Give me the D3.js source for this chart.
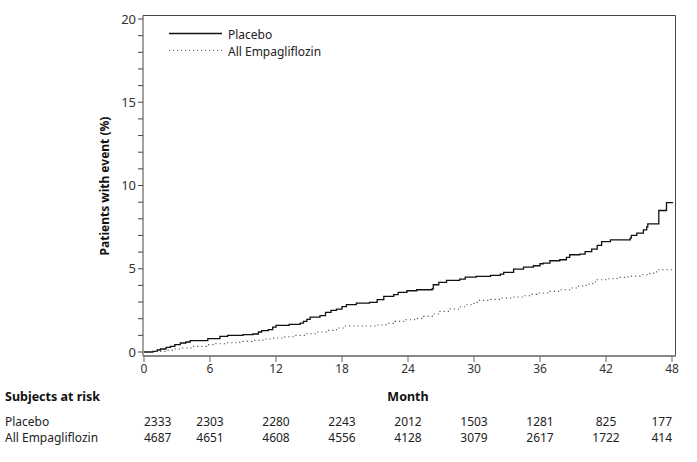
<!DOCTYPE html>
<html>
<head>
<meta charset="utf-8">
<script src="https://cdn.jsdelivr.net/npm/d3@7"></script>
<style>
  html, body { margin: 0; padding: 0; background: #fff; }
  svg { display: block; font-family: "Noto Sans", "Open Sans", sans-serif; }
</style>
</head>
<body>
<svg id="chart" width="697" height="462"></svg>
<script>
// ---- data ----
const seriesNames = ["Placebo", "All Empagliflozin"];
// step points: [month, cumulative % with event]
const placeboSteps = [
  [0,0],[0.8,0.04],[1.2,0.12],[1.5,0.18],[2.0,0.28],[2.4,0.34],[2.8,0.44],[3.3,0.54],
  [3.8,0.6],[4.2,0.68],[5.8,0.8],[6.9,0.94],[7.6,1.0],[9.0,1.04],[9.9,1.08],[10.4,1.2],
  [10.7,1.28],[11.3,1.34],[11.7,1.5],[12.0,1.6],[13.2,1.66],[14.2,1.74],[14.5,1.84],
  [14.8,1.96],[15.1,2.1],[16.0,2.18],[16.5,2.38],[17.0,2.5],[17.5,2.58],[18.0,2.72],
  [18.4,2.84],[19.3,2.94],[20.5,2.98],[21.2,3.14],[21.8,3.34],[22.7,3.44],[23.1,3.58],
  [23.9,3.68],[24.8,3.74],[26.2,3.8],[26.3,4.04],[26.8,4.18],[27.5,4.3],[28.7,4.38],
  [29.2,4.5],[30.2,4.54],[31.5,4.6],[32.4,4.68],[32.7,4.78],[33.6,4.98],[34.5,5.1],
  [35.4,5.18],[36.0,5.3],[36.3,5.34],[36.9,5.48],[37.8,5.54],[38.4,5.68],[38.7,5.84],
  [39.6,5.88],[40.1,6.03],[40.7,6.18],[41.2,6.4],[41.6,6.63],[42.4,6.74],[44.2,6.84],
  [44.3,7.0],[44.8,7.14],[45.4,7.34],[45.7,7.52],[45.8,7.7],[46.8,8.5],[47.5,8.97],[48.1,8.97]
];
const empaSteps = [
  [0,0],[1.0,0.04],[2.0,0.1],[2.7,0.18],[3.5,0.24],[4.5,0.34],[5.7,0.44],[6.5,0.5],
  [7.5,0.56],[8.7,0.64],[9.8,0.7],[10.8,0.78],[11.8,0.84],[12.8,0.92],[13.8,1.0],
  [14.8,1.1],[15.8,1.2],[16.6,1.3],[17.5,1.44],[18.2,1.56],[21.0,1.62],[22.0,1.72],
  [22.8,1.84],[23.8,1.94],[24.6,2.02],[25.4,2.14],[26.2,2.28],[26.9,2.44],[27.8,2.58],
  [28.6,2.72],[29.3,2.84],[30.0,2.98],[30.5,3.1],[31.5,3.16],[32.4,3.24],[33.5,3.3],
  [34.5,3.38],[35.1,3.46],[35.7,3.54],[36.9,3.64],[37.8,3.74],[38.7,3.84],[39.5,3.96],
  [40.2,4.08],[40.8,4.2],[41.2,4.34],[42.2,4.4],[43.0,4.48],[44.0,4.56],[45.1,4.64],
  [46.0,4.74],[46.6,4.94],[48.1,4.94]
];
const xTicks = [0, 6, 12, 18, 24, 30, 36, 42, 48];
const yMajorTicks = [0, 5, 10, 15, 20];
const yMinorTicks = d3.range(0, 21, 1);
const riskMonths = [0, 6, 12, 18, 24, 30, 36, 42, 48];
const riskPlacebo = [2333, 2303, 2280, 2243, 2012, 1503, 1281, 825, 177];
const riskEmpa = [4687, 4651, 4608, 4556, 4128, 3079, 2617, 1722, 414];

// ---- layout ----
const svg = d3.select("#chart");
const x = d3.scaleLinear().domain([0, 48]).range([144, 672]);
const y = d3.scaleLinear().domain([0, 20]).range([352, 19]);
const frame = {left: 143, right: 675.5, top: 15.5, bottom: 356};

// frame top/right
svg.append("path")
  .attr("d", `M${frame.left},${frame.top}H${frame.right}V${frame.bottom}`)
  .attr("fill", "none").attr("stroke", "#444").attr("stroke-width", 1);

// y axis
const yAxisG = svg.append("g").attr("transform", `translate(${frame.left},0)`);
yAxisG.append("line").attr("x1", 0).attr("x2", 0).attr("y1", frame.top).attr("y2", frame.bottom)
  .attr("stroke", "#444");
yAxisG.selectAll("line.tick").data(yMinorTicks).join("line").attr("class", "tick")
  .attr("x1", -5).attr("x2", 0).attr("y1", d => y(d)).attr("y2", d => y(d))
  .attr("stroke", "#444");
yAxisG.selectAll("text").data(yMajorTicks).join("text")
  .attr("x", -7).attr("y", d => y(d)).attr("dy", "0.35em")
  .attr("text-anchor", "end").attr("font-size", 13).attr("fill", "#333")
  .text(d => d);

// x axis
const xAxisG = svg.append("g");
xAxisG.append("line").attr("x1", frame.left).attr("x2", frame.right + 0.5)
  .attr("y1", frame.bottom).attr("y2", frame.bottom)
  .attr("stroke", "#888").attr("stroke-width", 2);
xAxisG.selectAll("line.tick").data(xTicks).join("line").attr("class", "tick")
  .attr("x1", d => x(d)).attr("x2", d => x(d)).attr("y1", frame.bottom).attr("y2", frame.bottom + 6)
  .attr("stroke", "#666");
xAxisG.selectAll("text").data(xTicks).join("text")
  .attr("x", d => x(d)).attr("y", 373)
  .attr("text-anchor", "middle").attr("font-size", 12).attr("fill", "#333")
  .text(d => d);

// y label
svg.append("text")
  .attr("transform", `translate(109,186) rotate(-90)`)
  .attr("text-anchor", "middle").attr("font-size", 12).attr("font-weight", "bold").attr("fill", "#111")
  .text("Patients with event (%)");

// curves
const line = d3.line().x(d => x(d[0])).y(d => y(d[1])).curve(d3.curveStepAfter);
svg.append("path").datum(placeboSteps).attr("d", line)
  .attr("fill", "none").attr("stroke", "#111").attr("stroke-width", 1.3);
svg.append("path").datum(empaSteps).attr("d", line)
  .attr("fill", "none").attr("stroke", "#555").attr("stroke-width", 1.1)
  .attr("stroke-dasharray", "1.2,3");

// legend
const legend = svg.append("g");
const legendY = [33.5, 50.5];
seriesNames.forEach((name, i) => {
  legend.append("line").attr("x1", 169).attr("x2", 222).attr("y1", legendY[i]).attr("y2", legendY[i])
    .attr("stroke", i === 0 ? "#111" : "#666").attr("stroke-width", i === 0 ? 1.3 : 1)
    .attr("stroke-dasharray", i === 0 ? null : "1,3");
  legend.append("text").attr("x", 228).attr("y", legendY[i] + 5)
    .attr("font-size", 12).attr("fill", "#222").text(name);
});

// risk table
svg.append("text").attr("x", 5).attr("y", 401).attr("font-size", 12.5).attr("font-weight", "bold")
  .attr("fill", "#111").text("Subjects at risk");
svg.append("text").attr("x", x(24)).attr("y", 401).attr("text-anchor", "middle")
  .attr("font-size", 12.5).attr("font-weight", "bold").attr("fill", "#111").text("Month");
const rows = [riskPlacebo, riskEmpa];
const rowY = [426, 442];
rows.forEach((vals, r) => {
  svg.append("text").attr("x", 5).attr("y", rowY[r]).attr("font-size", 12).attr("fill", "#222")
    .text(seriesNames[r]);
  svg.append("g").selectAll("text").data(vals).join("text")
    .attr("x", (d, i) => i === 0 ? x(riskMonths[i]) : (i === vals.length - 1 ? x(riskMonths[i]) : x(riskMonths[i])))
    .attr("text-anchor", (d, i) => i === 0 ? "start" : (i === vals.length - 1 ? "end" : "middle"))
    .attr("y", rowY[r]).attr("font-size", 12).attr("fill", "#222")
    .text(d => d);
});
</script>
</body>
</html>
